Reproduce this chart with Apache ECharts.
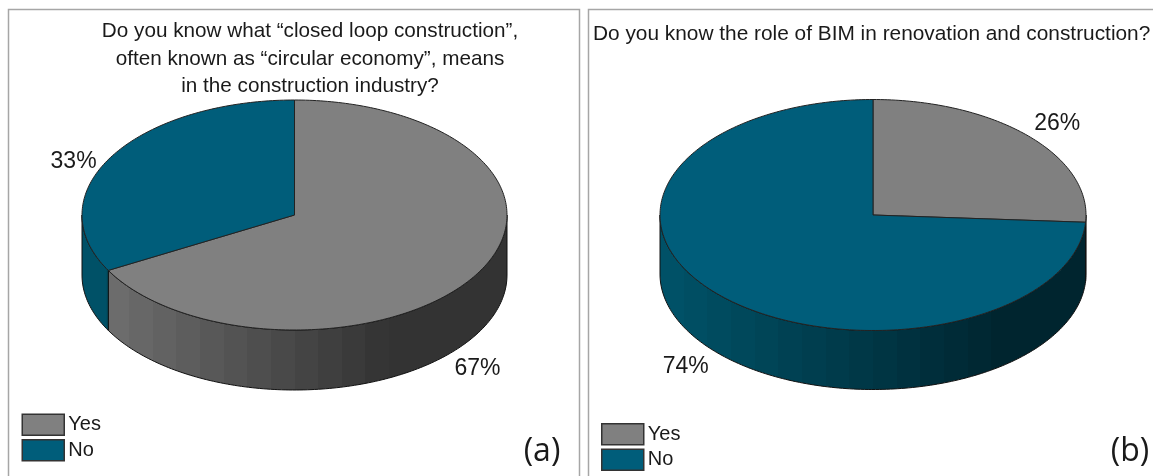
<!DOCTYPE html>
<html>
<head>
<meta charset="utf-8">
<title>Pie charts</title>
<script src="https://cdn.jsdelivr.net/npm/echarts@6/dist/echarts.min.js"></script>
<style>
  html, body { margin: 0; padding: 0; background: #fff; overflow: hidden; }
  #pieA, #pieB { position: absolute; top: 0; height: 476px; }
  #pieA { left: 0; width: 584px; }
  #pieB { left: 584px; width: 569px; }
</style>
</head>
<body>
<div id="pieA"></div>
<div id="pieB"></div>
<script>
const categories = ['Yes', 'No'];
const valuesA = [67, 33];
const valuesB = [26, 74];
const titleA = 'Do you know what \u201cclosed loop construction\u201d,\noften known as \u201ccircular economy\u201d, means\nin the construction industry?';
const titleB = 'Do you know the role of BIM in renovation and construction?';

const topColors = ['#808080', '#005d7a'];
// wall shading, left end then right end of the ramp
const wallColors = [['#747474', '#333333'], ['#005369', '#00252f']];
const fontName = 'Liberation Sans';
const textColor = '#1a1a1a';

function mix(c1, c2, t) {
  const p = (c, i) => parseInt(c.substr(1 + i * 2, 2), 16);
  let out = '#';
  for (let i = 0; i < 3; i++) {
    const v = Math.round(p(c1, i) + (p(c2, i) - p(c1, i)) * t);
    out += (v < 16 ? '0' : '') + v.toString(16);
  }
  return out;
}

// stepped horizontal gradient, the bands you see on the rim
function wallFill(idx, pie) {
  const bands = 18, stops = [];
  for (let i = 0; i < bands; i++) {
    const c = mix(wallColors[idx][0], wallColors[idx][1], Math.min(1, (i + 0.5) / bands / pie.rampEnd));
    stops.push({ offset: i / bands, color: c }, { offset: (i + 1) / bands, color: c });
  }
  return { type: 'linear', x: pie.cx - pie.rx, y: 0, x2: pie.cx + pie.rx, y2: 0, global: true, colorStops: stops };
}

function edge(pie, from, to, dy) {
  const pts = [];
  const n = Math.max(1, Math.ceil(Math.abs(to - from)));
  for (let i = 0; i <= n; i++) {
    const a = (from + (to - from) * i / n) * Math.PI / 180;
    pts.push([pie.cx + pie.rx * Math.sin(a), pie.cy - pie.ry * Math.cos(a) + dy]);
  }
  return pts;
}

function drawPie(domId, values, title, pie) {
  const total = values.reduce((s, v) => s + v, 0);

  const series = categories.map((name, idx) => ({
    name: name,
    type: 'custom',
    coordinateSystem: 'none',
    itemStyle: { color: topColors[idx] },
    data: [values[idx]],
    renderItem(params, api) {
      const before = values.slice(0, idx).reduce((s, v) => s + v, 0);
      const a0 = before / total * 360;
      const a1 = (before + api.value(0)) / total * 360;
      const children = [];

      const lo = Math.max(a0, 90), hi = Math.min(a1, 270);
      if (hi > lo) {
        children.push({
          type: 'polygon',
          shape: { points: edge(pie, lo, hi, 0).concat(edge(pie, hi, lo, pie.depth)) },
          style: { fill: wallFill(idx, pie), stroke: '#111', lineWidth: 1 }
        });
      }
      children.push({
        type: 'polygon',
        shape: { points: [[pie.cx, pie.cy]].concat(edge(pie, a0, a1, 0)) },
        style: { fill: topColors[idx], stroke: '#222', lineWidth: 1, lineJoin: 'round' }
      });

      const mid = (a0 + a1) / 2 * Math.PI / 180;
      children.push({
        type: 'text',
        z2: 10,
        style: {
          x: pie.cx + pie.rx * Math.sin(mid) + pie.labelOffset[idx][0],
          y: pie.cy - pie.ry * Math.cos(mid) + pie.labelOffset[idx][1],
          text: api.value(0) + '%',
          fill: textColor,
          font: '23px ' + fontName,
          align: 'center',
          verticalAlign: 'middle'
        }
      });
      return { type: 'group', children: children };
    }
  }));

  const chart = echarts.init(document.getElementById(domId));
  chart.setOption({
    animation: false,
    title: {
      text: title,
      left: pie.titleX,
      top: pie.titleY,
      padding: 0,
      textAlign: pie.titleAlign,
      textStyle: { fontFamily: fontName, fontSize: pie.titleSize, fontWeight: 'normal', lineHeight: 27.5, color: textColor }
    },
    legend: {
      data: categories,
      left: pie.legendX,
      top: pie.legendY,
      padding: 0,
      orient: 'vertical',
      icon: 'rect',
      itemWidth: 42,
      itemHeight: 21,
      itemGap: 3,
      selectedMode: false,
      itemStyle: { borderColor: '#333', borderWidth: 1.5 },
      textStyle: { fontFamily: fontName, fontSize: 20, color: textColor, padding: [0, 0, 0, -1] }
    },
    graphic: [{
      type: 'rect',
      silent: true,
      shape: { x: pie.frameX, y: 9.5, width: pie.frameW, height: 480 },
      style: { fill: 'none', stroke: '#a6a6a6', lineWidth: 1.5 }
    }, {
      type: 'text',
      silent: true,
      style: {
        x: pie.tagX, y: 452,
        text: pie.tag,
        fill: textColor,
        font: '32px "Open Sans", sans-serif',
        align: 'center',
        verticalAlign: 'middle'
      }
    }],
    series: series
  });
}

drawPie('pieA', valuesA, titleA, {
  cx: 294.5, cy: 215, rx: 212.5, ry: 115, depth: 60, rampEnd: 0.72,
  labelOffset: [[0, 95], [-38, 5]],
  titleX: 310, titleY: 18, titleAlign: 'center', titleSize: 20.7,
  legendX: 21.5, legendY: 413.5,
  frameX: 8.5, frameW: 571, tag: '(a)', tagX: 542
});
drawPie('pieB', valuesB, titleB, {
  cx: 289, cy: 215, rx: 213, ry: 115.5, depth: 59, rampEnd: 0.8,
  labelOffset: [[29, -12.5], [-32, 72.5]],
  titleX: 9, titleY: 20, titleAlign: 'left', titleSize: 20.85,
  legendX: 17, legendY: 423,
  frameX: 4.5, frameW: 570, tag: '(b)', tagX: 546
});
</script>
</body>
</html>
